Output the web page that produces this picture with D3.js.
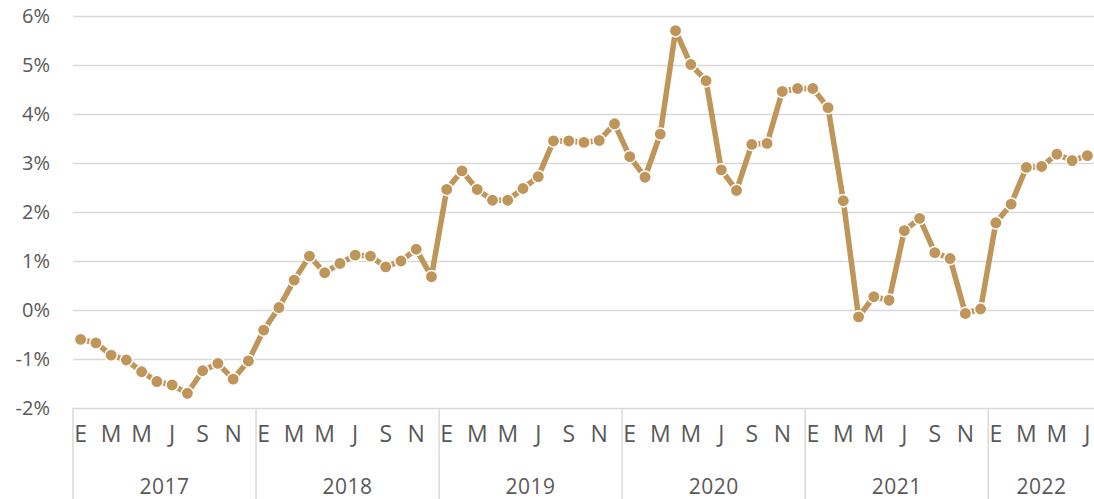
<!DOCTYPE html>
<html>
<head>
<meta charset="utf-8">
<script src="https://cdn.jsdelivr.net/npm/d3@7"></script>
<style>
  html, body { margin: 0; padding: 0; background: #ffffff; }
  svg { display: block; }
  text { font-family: "Open Sans", "Noto Sans", sans-serif; fill: #595959; }
</style>
</head>
<body>
<svg id="chart" width="1094" height="499"></svg>
<script>
// ---- data ----
const years = ["2017", "2018", "2019", "2020", "2021", "2022"];
const monthsPerYear = [12, 12, 12, 12, 12, 7];
const monthTickLabels = ["E", "M", "M", "J", "S", "N"]; // shown every other month
const yTicks = [-2, -1, 0, 1, 2, 3, 4, 5, 6];

const values2017 = [-0.60, -0.67, -0.92, -1.02, -1.26, -1.46, -1.53, -1.70, -1.24, -1.09, -1.41, -1.04];
const values2018 = [-0.41, 0.05, 0.61, 1.10, 0.76, 0.95, 1.12, 1.10, 0.88, 1.00, 1.24, 0.68];
const values2019 = [2.46, 2.84, 2.46, 2.24, 2.24, 2.48, 2.72, 3.45, 3.45, 3.42, 3.46, 3.80];
const values2020 = [3.13, 2.71, 3.59, 5.70, 5.01, 4.68, 2.86, 2.44, 3.38, 3.40, 4.46, 4.52];
const values2021 = [4.52, 4.13, 2.23, -0.14, 0.27, 0.20, 1.62, 1.87, 1.17, 1.05, -0.07, 0.02];
const values2022 = [1.78, 2.16, 2.91, 2.93, 3.18, 3.05, 3.15];

// ---- build series ----
const yearValues = [values2017, values2018, values2019, values2020, values2021, values2022];
const points = [];
yearValues.forEach((arr, yi) => {
  arr.forEach((v, mi) => points.push({ id: points.length, year: years[yi], month: mi, value: v }));
});

const svg = d3.select("#chart");
const W = 1094, H = 499;
const plotLeft = 73, plotRight = 1095, plotTop = 16, plotBottom = 408;

const x = d3.scaleBand()
  .domain(points.map(d => d.id))
  .range([plotLeft, plotRight])
  .paddingInner(0).paddingOuter(0);

const y = d3.scaleLinear()
  .domain([-2, 6])
  .range([plotBottom, plotTop]);

const color = "#bf955a";
const gridColor = "#d9d9d9";

// y axis with gridlines
const yAxis = svg.append("g")
  .attr("transform", `translate(${plotLeft},0)`)
  .call(d3.axisLeft(y).tickValues(yTicks).tickFormat(d => d + "%")
    .tickSize(-(W - plotLeft)).tickPadding(23));
yAxis.select(".domain").remove();
yAxis.selectAll(".tick line").attr("stroke", gridColor).attr("stroke-width", 1.5);
yAxis.selectAll(".tick text")
  .attr("font-size", 20).attr("fill", "#595959")
  .attr("font-family", "'Open Sans', sans-serif");

// month tick labels (every other month)
const monthTickIds = points.filter(d => d.month % 2 === 0).map(d => d.id);
const xAxis = svg.append("g")
  .attr("transform", `translate(0,${plotBottom})`)
  .call(d3.axisBottom(x).tickValues(monthTickIds)
    .tickFormat(id => monthTickLabels[points[id].month / 2])
    .tickSize(0).tickPadding(18));
xAxis.select(".domain").remove();
xAxis.selectAll(".tick text")
  .attr("font-size", 23).attr("fill", "#595959")
  .attr("font-family", "'Open Sans', sans-serif");

// year separators and labels
let start = 0;
const yearSpans = years.map((yr, i) => {
  const s = start; start += monthsPerYear[i];
  return { year: yr, first: s, last: start - 1 };
});
svg.append("g").selectAll("line")
  .data(yearSpans)
  .join("line")
  .attr("x1", d => x(d.first)).attr("x2", d => x(d.first))
  .attr("y1", plotBottom).attr("y2", H)
  .attr("stroke", gridColor).attr("stroke-width", 1.5);
svg.append("g").selectAll("text")
  .data(yearSpans)
  .join("text")
  .attr("x", d => (x(d.first) + x(d.last) + x.bandwidth()) / 2)
  .attr("y", 494)
  .attr("text-anchor", "middle")
  .attr("font-size", 21)
  .attr("letter-spacing", 0.5)
  .text(d => d.year);

// line
const line = d3.line()
  .x(d => x(d.id) + x.bandwidth() / 2)
  .y(d => y(d.value));
svg.append("path")
  .datum(points)
  .attr("fill", "none")
  .attr("stroke", color)
  .attr("stroke-width", 5.5)
  .attr("stroke-linejoin", "round")
  .attr("d", line);

// markers
svg.append("g").selectAll("circle")
  .data(points)
  .join("circle")
  .attr("cx", d => x(d.id) + x.bandwidth() / 2)
  .attr("cy", d => y(d.value))
  .attr("r", 6.2)
  .attr("fill", color)
  .attr("stroke", "#ffffff")
  .attr("stroke-width", 1.5);
</script>
</body>
</html>
